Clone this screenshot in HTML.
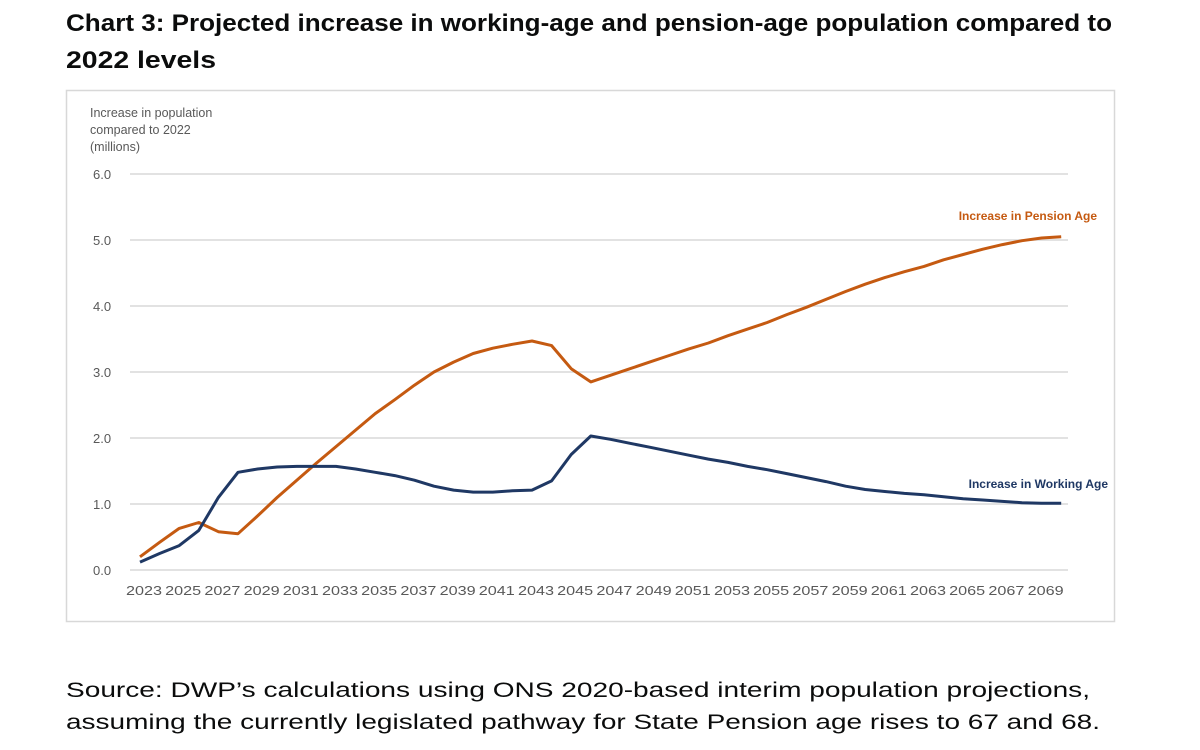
<!DOCTYPE html>
<html><head><meta charset="utf-8"><style>
body{margin:0;width:1200px;height:750px;background:#fff;overflow:hidden;font-family:"Liberation Sans",sans-serif}
</style></head><body>
<svg width="1200" height="750" xmlns="http://www.w3.org/2000/svg" style="position:absolute;left:0;top:0">
<text x="66" y="31" font-size="24" font-weight="bold" fill="#0b0c0c" textLength="1046" lengthAdjust="spacingAndGlyphs" font-family="Liberation Sans, sans-serif">Chart 3: Projected increase in working-age and pension-age population compared to</text>
<text x="66" y="68" font-size="24" font-weight="bold" fill="#0b0c0c" textLength="150" lengthAdjust="spacingAndGlyphs" font-family="Liberation Sans, sans-serif">2022 levels</text>
<rect x="66.5" y="90.5" width="1048" height="531" fill="#fff" stroke="#d8d8d8" stroke-width="1.5"/>
<g font-size="12.5" fill="#595959" font-family="Liberation Sans, sans-serif">
<text x="90" y="117">Increase in population</text>
<text x="90" y="134">compared to 2022</text>
<text x="90" y="151">(millions)</text>
</g>
<g id="grid" stroke="#d9d9d9" stroke-width="1.5"></g>
<g id="ylab" font-size="13" fill="#595959" font-family="Liberation Sans, sans-serif"></g>
<g id="xlab" font-size="13" fill="#595959" font-family="Liberation Sans, sans-serif" text-anchor="middle"></g>
<polyline id="pen" fill="none" stroke="#c55a11" stroke-width="3" stroke-linejoin="round"/>
<polyline id="wrk" fill="none" stroke="#1f3864" stroke-width="3" stroke-linejoin="round"/>
<text x="1097" y="220" font-size="12" font-weight="bold" fill="#c55a11" text-anchor="end" font-family="Liberation Sans, sans-serif">Increase in Pension Age</text>
<text x="1108" y="488" font-size="12" font-weight="bold" fill="#1f3864" text-anchor="end" font-family="Liberation Sans, sans-serif">Increase in Working Age</text>
<text x="66" y="697" font-size="21" fill="#0b0c0c" textLength="1024" lengthAdjust="spacingAndGlyphs" font-family="Liberation Sans, sans-serif">Source: DWP’s calculations using ONS 2020-based interim population projections,</text>
<text x="66" y="729" font-size="21" fill="#0b0c0c" textLength="1034" lengthAdjust="spacingAndGlyphs" font-family="Liberation Sans, sans-serif">assuming the currently legislated pathway for State Pension age rises to 67 and 68.</text>
</svg>
<script>
var ns="http://www.w3.org/2000/svg";
function Y(v){return 570-66*v;}
function X(yr){return 140+(yr-2023)*19.6;}
var g=document.getElementById('grid'),yl=document.getElementById('ylab'),xl=document.getElementById('xlab');
for(var i=0;i<=6;i++){var l=document.createElementNS(ns,'line');l.setAttribute('x1',130);l.setAttribute('x2',1068);l.setAttribute('y1',Y(i));l.setAttribute('y2',Y(i));g.appendChild(l);
var t=document.createElementNS(ns,'text');t.setAttribute('x',93);t.setAttribute('y',Y(i)+5);t.textContent=i+'.0';yl.appendChild(t);}
for(var y=2023;y<=2069;y+=2){var t=document.createElementNS(ns,'text');t.setAttribute('x',X(y)+4);t.setAttribute('y',595);t.setAttribute('textLength',36);t.setAttribute('lengthAdjust','spacingAndGlyphs');t.textContent=y;xl.appendChild(t);}
var P=[0.2,0.42,0.63,0.72,0.58,0.55,0.82,1.1,1.36,1.62,1.87,2.12,2.37,2.58,2.8,3.0,3.15,3.28,3.36,3.42,3.47,3.4,3.05,2.85,2.95,3.05,3.15,3.25,3.35,3.44,3.55,3.65,3.75,3.87,3.98,4.1,4.22,4.33,4.43,4.52,4.6,4.7,4.78,4.86,4.93,4.99,5.03,5.05];
var W=[0.12,0.25,0.37,0.6,1.1,1.48,1.53,1.56,1.57,1.57,1.57,1.53,1.48,1.43,1.36,1.27,1.21,1.18,1.18,1.2,1.21,1.35,1.75,2.03,1.98,1.92,1.86,1.8,1.74,1.68,1.63,1.57,1.52,1.46,1.4,1.34,1.27,1.22,1.19,1.16,1.14,1.11,1.08,1.06,1.04,1.02,1.01,1.01];
function pts(a){return a.map(function(v,i){return X(2023+i).toFixed(1)+','+Y(v).toFixed(1)}).join(' ');}
document.getElementById('pen').setAttribute('points',pts(P));
document.getElementById('wrk').setAttribute('points',pts(W));
</script>
</body></html>
